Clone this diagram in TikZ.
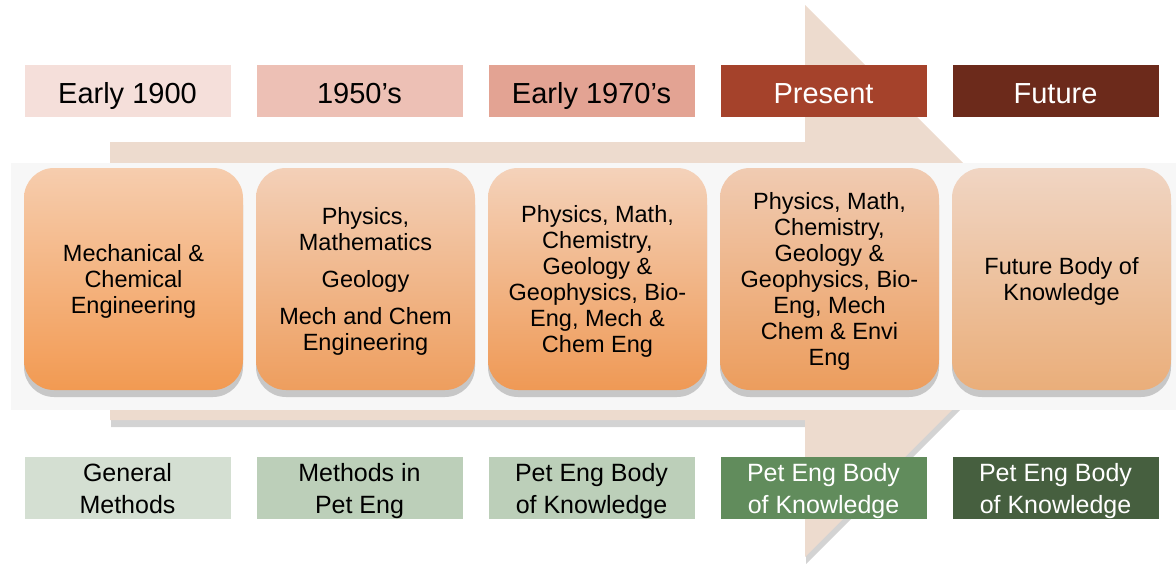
\documentclass[tikz,border=0pt]{standalone}
\usepackage{fontspec}
\setmainfont{Liberation Sans}
\usetikzlibrary{shadows}

\definecolor{arrowfill}{HTML}{EDDBCE}
\definecolor{bandgrey}{HTML}{F7F7F7}
\definecolor{era1}{HTML}{F5DFDA}
\definecolor{era2}{HTML}{EDC0B5}
\definecolor{era3}{HTML}{E3A393}
\definecolor{era4}{HTML}{A5422B}
\definecolor{era5}{HTML}{6C2A1B}
\definecolor{meth1}{HTML}{D4DFD2}
\definecolor{meth2}{HTML}{BCCFB9}
\definecolor{meth4}{HTML}{618C5C}
\definecolor{meth5}{HTML}{465F3F}

\begin{document}
\begin{tikzpicture}[x=1pt,y=-1pt,node distance=232pt,
    era node/.style={minimum width=206pt,minimum height=52pt,inner sep=0pt,text height=24pt,text depth=0pt,font=\fontsize{29}{34}\selectfont},
    field node/.style={rounded corners=30pt,minimum width=219pt,minimum height=222pt,inner sep=0pt,text depth=-3pt,align=center,font=\fontsize{23.5}{26}\selectfont,drop shadow={shadow xshift=0pt,shadow yshift=-7pt,opacity=0.4}},
    method node/.style={minimum width=206pt,minimum height=62pt,inner sep=0pt,text depth=-4pt,align=center,font=\fontsize{25}{32}\selectfont}]
    \useasboundingbox (0,0) rectangle (1176,563);
    % big arrow behind everything
    \fill[arrowfill,drop shadow={shadow xshift=1pt,shadow yshift=-7pt,opacity=0.35}] (110,142) -- (805,142) -- (805,5) -- (1081,281) -- (805,557) -- (805,420) -- (110,420) -- cycle;
    \fill[bandgrey] (11,163) rectangle (1176,410);
    % eras
    \node[era node,fill=era1] (e0) at (127.5,91) {Early 1900};
    \node[era node,fill=era2] (e1) [right of=e0] {1950’s};
    \node[era node,fill=era3] (e2) [right of=e1] {Early 1970’s};
    \node[era node,fill=era4,text=white] (e3) [right of=e2] {Present};
    \node[era node,fill=era5,text=white] (e4) [right of=e3] {Future};
    % fields
    \node[field node,top color={rgb,255:red,246;green,205;blue,174},bottom color={rgb,255:red,242;green,154;blue,82}] (f0) at (133.5,279) {Mechanical \&\\Chemical\\Engineering};
    \node[field node,top color={rgb,255:red,243;green,208;blue,184},bottom color={rgb,255:red,238;green,158;blue,94}] (f1) [right of=f0] {Physics,\\Mathematics\\[11pt]Geology\\[11pt]Mech and Chem\\Engineering};
    \node[field node,top color={rgb,255:red,244;green,210;blue,186},bottom color={rgb,255:red,239;green,153;blue,85}] (f2) [right of=f1] {Physics, Math,\\Chemistry,\\Geology \&\\Geophysics, Bio-\\Eng, Mech \&\\Chem Eng};
    \node[field node,top color={rgb,255:red,240;green,203;blue,178},bottom color={rgb,255:red,236;green,157;blue,93}] (f3) [right of=f2] {Physics, Math,\\Chemistry,\\Geology \&\\Geophysics, Bio-\\Eng, Mech\\Chem \& Envi\\Eng};
    \node[field node,top color={rgb,255:red,240;green,213;blue,195},bottom color={rgb,255:red,234;green,174;blue,122}] (f4) [right of=f3] {Future Body of\\Knowledge};
    % methods
    \node[method node,fill=meth1] (m0) at (127.5,488) {General\\Methods};
    \node[method node,fill=meth2] (m1) [right of=m0] {Methods in\\Pet Eng};
    \node[method node,fill=meth2] (m2) [right of=m1] {Pet Eng Body\\of Knowledge};
    \node[method node,fill=meth4,text=white] (m3) [right of=m2] {Pet Eng Body\\of Knowledge};
    \node[method node,fill=meth5,text=white] (m4) [right of=m3] {Pet Eng Body\\of Knowledge};
\end{tikzpicture}
\end{document}
